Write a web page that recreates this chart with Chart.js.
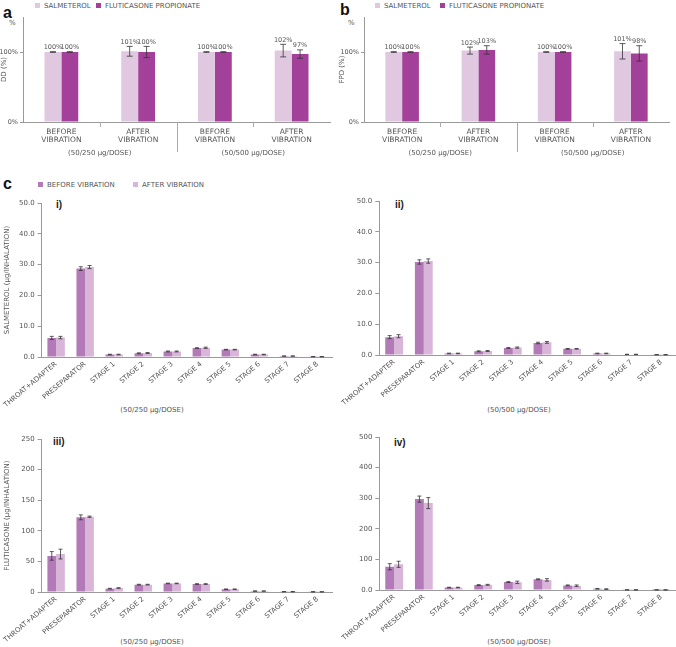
<!DOCTYPE html>
<html>
<head>
<meta charset="utf-8">
<script src="https://cdn.jsdelivr.net/npm/chart.js@4.4.0/dist/chart.umd.min.js"></script>
<style>
  body { margin: 0; width: 676px; height: 647px; position: relative; background: #fff; overflow: hidden; font-family: "DejaVu Sans", sans-serif; }
  canvas { position: absolute; }
  .panel { position: absolute; font-family: "Liberation Sans", Arial, sans-serif; font-weight: bold; font-size: 16px; color: #111; line-height: 1; }
  .sub { position: absolute; font-family: "Liberation Sans", Arial, sans-serif; font-weight: bold; font-size: 10px; color: #222; line-height: 1; }
  .txt { position: absolute; font-size: 7px; color: #555; line-height: 1; white-space: nowrap; }
  .cap { transform: translateX(-50%); }
  .leg { position: absolute; font-size: 7px; color: #555; line-height: 1; white-space: nowrap; }
  .leg i { display: inline-block; width: 5px; height: 5px; margin-right: 4px; vertical-align: 0; }
</style>
</head>
<body>
<div class="panel" style="left:3px;top:5px">a</div>
<div class="panel" style="left:340px;top:2px">b</div>
<div class="panel" style="left:3px;top:176px">c</div>

<div class="leg" style="left:35px;top:3px"><i style="background:#e0c9e0"></i>SALMETEROL</div>
<div class="leg" style="left:96px;top:3px"><i style="background:#a3409a"></i>FLUTICASONE PROPIONATE</div>
<div class="leg" style="left:375px;top:3px"><i style="background:#e0c9e0"></i>SALMETEROL</div>
<div class="leg" style="left:440px;top:3px"><i style="background:#a3409a"></i>FLUTICASONE PROPIONATE</div>
<div class="leg" style="left:38px;top:182px"><i style="background:#b27ab6"></i>BEFORE VIBRATION</div>
<div class="leg" style="left:133px;top:182px"><i style="background:#d8b5d9"></i>AFTER VIBRATION</div>

<div class="txt" style="left:9px;top:20px">%</div>
<div class="txt" style="left:348px;top:20px">%</div>

<div class="sub" style="left:56px;top:200px">i)</div>
<div class="sub" style="left:395px;top:200px">ii)</div>
<div class="sub" style="left:53px;top:437px">iii)</div>
<div class="sub" style="left:394px;top:438px">iv)</div>

<div class="txt cap" style="left:152px;top:407px">(50/250 μg/DOSE)</div>
<div class="txt cap" style="left:519px;top:407px">(50/500 μg/DOSE)</div>
<div class="txt cap" style="left:152px;top:639px">(50/250 μg/DOSE)</div>
<div class="txt cap" style="left:519px;top:639px">(50/500 μg/DOSE)</div>

<canvas id="chartA" width="338" height="165" style="left:0;top:0"></canvas>
<canvas id="chartB" width="338" height="165" style="left:338px;top:0"></canvas>
<canvas id="chartCi" width="338" height="228" style="left:0;top:190px"></canvas>
<canvas id="chartCii" width="338" height="228" style="left:338px;top:190px"></canvas>
<canvas id="chartCiii" width="338" height="227" style="left:0;top:420px"></canvas>
<canvas id="chartCiv" width="338" height="227" style="left:338px;top:420px"></canvas>

<script>
// Panels a/b categories
const topCats = [['BEFORE', 'VIBRATION'], ['AFTER', 'VIBRATION'], ['BEFORE', 'VIBRATION'], ['AFTER', 'VIBRATION']];
const doseGroups = ['(50/250 μg/DOSE)', '(50/500 μg/DOSE)'];

// a: delivered dose (%)
const ddSalm = [100, 101, 100, 102];
const ddSalmErr = [0.5, 7, 0.5, 9];
const ddFlut = [100, 100, 100, 97];
const ddFlutErr = [0.5, 8, 0.5, 6];

// b: fine particle dose (%)
const fpdSalm = [100, 102, 100, 101];
const fpdSalmErr = [0.5, 5, 0.5, 11];
const fpdFlut = [100, 103, 100, 98];
const fpdFlutErr = [0.5, 6, 0.5, 11];

// c: deposition per stage
const stages = ['THROAT+ADAPTER', 'PRESEPARATOR', 'STAGE 1', 'STAGE 2', 'STAGE 3', 'STAGE 4', 'STAGE 5', 'STAGE 6', 'STAGE 7', 'STAGE 8'];

const salm250Before = [6.2, 28.7, 0.8, 1.2, 1.8, 2.9, 2.4, 0.8, 0.3, 0.1];
const salm250BeforeErr = [0.5, 0.6, 0.1, 0.15, 0.15, 0.1, 0.1, 0.1, 0.05, 0.02];
const salm250After = [6.3, 29.2, 0.8, 1.3, 1.8, 3.0, 2.4, 0.8, 0.3, 0.1];
const salm250AfterErr = [0.4, 0.5, 0.1, 0.15, 0.15, 0.2, 0.1, 0.1, 0.05, 0.02];

const salm500Before = [5.8, 30.2, 0.5, 1.2, 2.3, 3.9, 2.0, 0.5, 0.2, 0.1];
const salm500BeforeErr = [0.5, 0.7, 0.1, 0.15, 0.15, 0.25, 0.1, 0.1, 0.03, 0.02];
const salm500After = [6.1, 30.5, 0.5, 1.3, 2.4, 4.1, 2.0, 0.5, 0.2, 0.1];
const salm500AfterErr = [0.5, 0.7, 0.1, 0.15, 0.2, 0.3, 0.1, 0.1, 0.03, 0.02];

const flut250Before = [59, 122, 5.5, 12, 14, 13, 4.5, 1.5, 0.5, 0.3];
const flut250BeforeErr = [7, 4, 0.5, 0.6, 0.5, 0.6, 0.5, 0.3, 0.2, 0.1];
const flut250After = [62, 123, 6.5, 12, 14, 13, 4.5, 1.5, 0.5, 0.3];
const flut250AfterErr = [8, 1, 0.5, 0.6, 0.5, 0.6, 0.5, 0.3, 0.2, 0.1];

const flut500Before = [76, 297, 8, 16, 26, 35, 15, 4, 0.5, 0.3];
const flut500BeforeErr = [10, 10, 1, 1.5, 1.5, 1.5, 1.5, 1, 0.2, 0.1];
const flut500After = [84, 284, 8, 17, 25, 33, 14, 3, 0.5, 0.3];
const flut500AfterErr = [10, 18, 1, 1.5, 4, 4, 2.5, 1, 0.2, 0.1];

// y tick values / labels
const ticksSalm = [0, 10, 20, 30, 40, 50];
const ticksSalmLabels = ['0.0', '10.0', '20.0', '30.0', '40.0', '50.0'];
const ticksFlut250 = [0, 50, 100, 150, 200, 250];
const ticksFlut250Labels = ['0', '50', '100', '150', '200', '250'];
const ticksFlut500 = [0, 100, 200, 300, 400, 500];
const ticksFlut500Labels = ['0.0', '100', '200', '300', '400', '500'];

const C_SALM = '#e0c9e0';
const C_FLUT = '#a3409a';
const C_BEFORE = '#b27ab6';
const C_AFTER = '#d8b5d9';
const FONT = '"DejaVu Sans", sans-serif';
const AXIS = '#9a9a9a';
const TEXT = '#555';

Chart.defaults.font.family = FONT;
Chart.defaults.color = TEXT;

// draws +/- error whiskers from dataset.errors
const errorBars = {
    id: 'errorBars',
    afterDatasetsDraw(chart, args, opts) {
        const { ctx } = chart;
        const y = chart.scales.y;
        chart.data.datasets.forEach((ds, i) => {
            if (!ds.errors) return;
            const meta = chart.getDatasetMeta(i);
            ctx.save();
            ctx.strokeStyle = '#333';
            ctx.lineWidth = 0.8;
            meta.data.forEach((bar, j) => {
                const e = ds.errors[j];
                const v = ds.data[j];
                const x = bar.x;
                const y1 = y.getPixelForValue(v + e);
                const y2 = y.getPixelForValue(v - e);
                const w = opts.cap || 2;
                ctx.beginPath();
                ctx.moveTo(x, y1); ctx.lineTo(x, y2);
                ctx.moveTo(x - w, y1); ctx.lineTo(x + w, y1);
                ctx.moveTo(x - w, y2); ctx.lineTo(x + w, y2);
                ctx.stroke();
            });
            ctx.restore();
        });
    }
};

// "100%" style labels over the error bars
const valueLabels = {
    id: 'valueLabels',
    afterDatasetsDraw(chart) {
        const { ctx } = chart;
        const y = chart.scales.y;
        ctx.save();
        ctx.fillStyle = TEXT;
        ctx.font = '6.5px ' + FONT;
        ctx.textAlign = 'center';
        ctx.textBaseline = 'bottom';
        chart.data.datasets.forEach((ds, i) => {
            chart.getDatasetMeta(i).data.forEach((bar, j) => {
                const v = ds.data[j];
                ctx.fillText(v + '%', bar.x, y.getPixelForValue(v + ds.errors[j]) - 1);
            });
        });
        ctx.restore();
    }
};

// separators + dose captions under panels a/b
const doseGroupsPlugin = {
    id: 'doseGroups',
    afterDraw(chart) {
        const { ctx, chartArea } = chart;
        const x = chart.scales.x;
        const mid = i => (x.getPixelForValue(i) + x.getPixelForValue(i + 1)) / 2;
        ctx.save();
        ctx.strokeStyle = '#aaa';
        ctx.lineWidth = 1;
        ctx.beginPath();
        [[0, 5], [1, 30], [2, 5]].forEach(([i, len]) => {
            const px = Math.round(mid(i)) + 0.5;
            ctx.moveTo(px, chartArea.bottom);
            ctx.lineTo(px, chartArea.bottom + len);
        });
        ctx.stroke();
        ctx.fillStyle = TEXT;
        ctx.font = '7px ' + FONT;
        ctx.textAlign = 'center';
        ctx.textBaseline = 'middle';
        doseGroups.forEach((t, k) => ctx.fillText(t, mid(k * 2), chartArea.bottom + 31));
        ctx.restore();
    }
};

function topChart(id, yWidth, padRight, yTitle, salm, salmErr, flut, flutErr) {
    return new Chart(document.getElementById(id), {
        type: 'bar',
        data: {
            labels: topCats,
            datasets: [
                { label: 'SALMETEROL', data: salm, errors: salmErr, backgroundColor: C_SALM },
                { label: 'FLUTICASONE PROPIONATE', data: flut, errors: flutErr, backgroundColor: C_FLUT }
            ]
        },
        options: {
            responsive: false,
            animation: false,
            categoryPercentage: 0.44,
            barPercentage: 1,
            layout: { padding: { top: 17, right: padRight, left: 0, bottom: 0 } },
            plugins: { legend: { display: false }, tooltip: { enabled: false }, errorBars: { cap: 3 } },
            scales: {
                x: {
                    grid: { display: false, drawTicks: false },
                    border: { color: AXIS },
                    ticks: { font: { size: 7.5, lineHeight: 1.1 }, padding: 6, maxRotation: 0, autoSkip: false },
                    afterFit(s) { s.height = 43; }
                },
                y: {
                    min: 0, max: 150,
                    afterBuildTicks(s) { s.ticks = [{ value: 0 }, { value: 100 }]; },
                    ticks: { callback: v => v + '%', font: { size: 6.5 }, padding: 2 },
                    grid: { drawOnChartArea: false, tickLength: 3, color: AXIS },
                    border: { color: AXIS },
                    title: { display: true, text: yTitle, font: { size: 7 }, padding: 0 },
                    afterFit(s) { s.width = yWidth; }
                }
            }
        },
        plugins: [errorBars, valueLabels, doseGroupsPlugin]
    });
}

function stageChart(id, pad, xHeight, yTitle, before, beforeErr, after, afterErr, tickVals, tickLabels) {
    return new Chart(document.getElementById(id), {
        type: 'bar',
        data: {
            labels: stages,
            datasets: [
                { label: 'BEFORE VIBRATION', data: before, errors: beforeErr, backgroundColor: C_BEFORE },
                { label: 'AFTER VIBRATION', data: after, errors: afterErr, backgroundColor: C_AFTER }
            ]
        },
        options: {
            responsive: false,
            animation: false,
            categoryPercentage: 0.6,
            barPercentage: 1,
            layout: { padding: { top: pad.top, right: pad.right, left: 0, bottom: 0 } },
            plugins: { legend: { display: false }, tooltip: { enabled: false }, errorBars: { cap: 2 } },
            scales: {
                x: {
                    grid: { display: false, drawTicks: false },
                    border: { color: AXIS },
                    ticks: { font: { size: 7 }, padding: 3, minRotation: 40, maxRotation: 40, autoSkip: false },
                    afterFit(s) { s.height = xHeight; }
                },
                y: {
                    min: 0, max: tickVals[tickVals.length - 1],
                    afterBuildTicks(s) { s.ticks = tickVals.map(v => ({ value: v })); },
                    ticks: { callback: (v, i) => tickLabels[i], font: { size: 7 }, padding: 3 },
                    grid: { drawOnChartArea: false, tickLength: 4, color: AXIS },
                    border: { color: AXIS },
                    title: { display: !!yTitle, text: yTitle, font: { size: 7 }, padding: 0 },
                    afterFit(s) { s.width = pad.left; }
                }
            }
        },
        plugins: [errorBars]
    });
}

document.addEventListener('DOMContentLoaded', () => {
    topChart('chartA', 23, 8, 'DD (%)', ddSalm, ddSalmErr, ddFlut, ddFlutErr);
    topChart('chartB', 26, 7, 'FPD (%)', fpdSalm, fpdSalmErr, fpdFlut, fpdFlutErr);

    stageChart('chartCi', { top: 13, right: 6, left: 39 }, 61, 'SALMETEROL (μg/INHALATION)',
        salm250Before, salm250BeforeErr, salm250After, salm250AfterErr, ticksSalm, ticksSalmLabels);
    stageChart('chartCii', { top: 11, right: 0, left: 39 }, 63, '',
        salm500Before, salm500BeforeErr, salm500After, salm500AfterErr, ticksSalm, ticksSalmLabels);
    stageChart('chartCiii', { top: 19, right: 6, left: 39 }, 55, 'FLUTICASONE (μg/INHALATION)',
        flut250Before, flut250BeforeErr, flut250After, flut250AfterErr, ticksFlut250, ticksFlut250Labels);
    stageChart('chartCiv', { top: 17, right: 0, left: 40 }, 57, '',
        flut500Before, flut500BeforeErr, flut500After, flut500AfterErr, ticksFlut500, ticksFlut500Labels);
});
</script>
</body>
</html>
